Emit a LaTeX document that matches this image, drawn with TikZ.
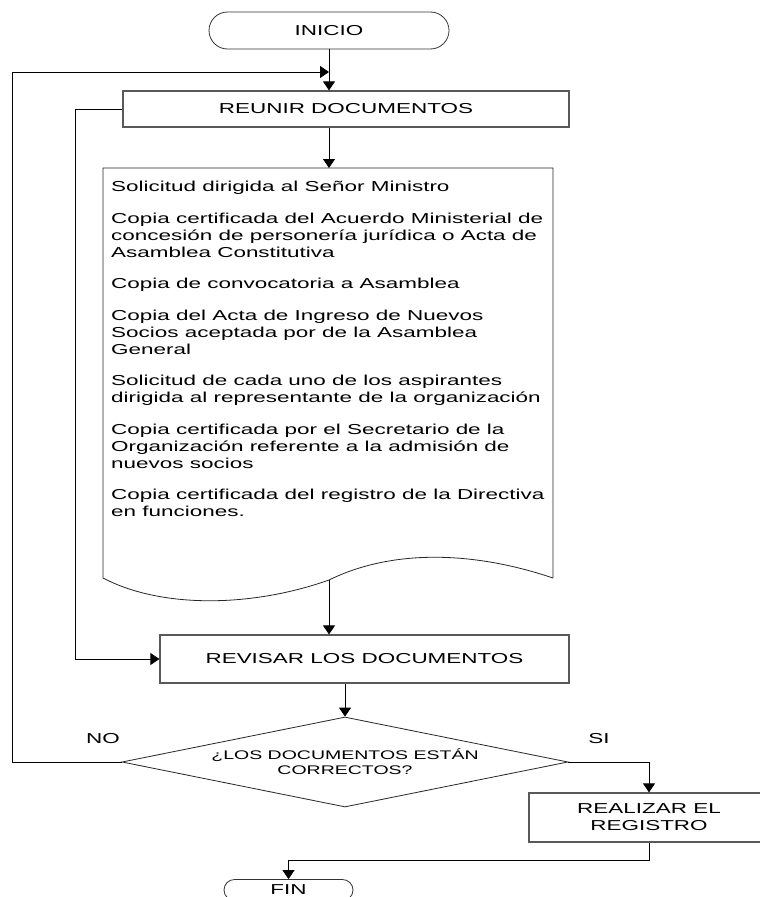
\documentclass[tikz,border=0pt]{standalone}
\usepackage{fontspec}
\setmainfont{Liberation Sans}[FakeStretch=1.56]
\usetikzlibrary{shapes.geometric,shapes.misc,arrows.meta}
\begin{document}
\begin{tikzpicture}[x=1pt,y=-1pt,>={Triangle[length=9pt,width=12pt]},
	every node/.style={font=\fontsize{14.4}{17}\selectfont},
	linea/.style={line width=0.9pt},
	caja/.style={rectangle,draw=black!65,line width=1.2pt,inner sep=0pt},
	terminal/.style={rounded rectangle,draw=black!80,line width=0.8pt,inner sep=0pt},
	rombo/.style={diamond,draw=black!85,line width=0.8pt,inner sep=0pt,shape aspect=4.95}]
\clip (0,0) rectangle (760,897);
\fill[white] (0,0) rectangle (760,897);
\node (inicio) at (329,30.5) [terminal,minimum width=240pt,minimum height=37pt] {INICIO};
\node (reunir) at (346,109) [caja,minimum width=446pt,minimum height=36pt] {REUNIR DOCUMENTOS};
\draw[draw=black!85,line width=0.8pt]
	(553,578) -- (553,168) -- (103,168) -- (103,578)
	.. controls (160,608) and (250,608) .. (329,580)
	.. controls (390,550) and (470,550) .. (553,578);
\node (requisitos) at (111,181) [anchor=north west,align=left,inner sep=0pt]
	{Solicitud dirigida al Señor Ministro\\[14.5pt]
	Copia certificada del Acuerdo Ministerial de\\
	concesión de personería jurídica o Acta de\\
	Asamblea Constitutiva\\[14.5pt]
	Copia de convocatoria a Asamblea\\[14.5pt]
	Copia del Acta de Ingreso de Nuevos\\
	Socios aceptada por de la Asamblea\\
	General\\[14.5pt]
	Solicitud de cada uno de los aspirantes\\
	dirigida al representante de la organización\\[14.5pt]
	Copia certificada por el Secretario de la\\
	Organización referente a la admisión de\\
	nuevos socios\\[14.5pt]
	Copia certificada del registro de la Directiva\\
	en funciones.};
\coordinate (docarriba) at (329,168);
\coordinate (docabajo) at (329,580);
\node (revisar) at (364.5,659) [caja,minimum width=409pt,minimum height=48pt] {REVISAR LOS DOCUMENTOS};
\node (pregunta) at (345,762) [rombo,minimum width=446pt,minimum height=90pt,align=center,
	font=\fontsize{12.5}{15}\selectfont] {¿LOS DOCUMENTOS ESTÁN\\CORRECTOS?};
\node (no) at (103,739) {NO};
\node (si) at (599,739) {SI};
\node (registro) at (649,817.5) [caja,minimum width=240pt,minimum height=49pt,align=center] {REALIZAR EL\\REGISTRO};
\node (fin) at (288.5,890) [terminal,minimum width=129pt,minimum height=21pt] {FIN};
\coordinate (bucle) at (12,72);
\coordinate (union) at (329,72);
\draw[linea,->] (inicio.south) -- (inicio.south |- reunir.north);
\draw[linea,->] (pregunta.west) -| (bucle) -- (union);
\draw[linea,->] (reunir.south -| docarriba) -- (docarriba);
\draw[linea,->] (reunir.west) -- ++(-47,0) |- (revisar.west);
\draw[linea,->] (docabajo) -- (docabajo |- revisar.north);
\draw[linea,->] (revisar.south -| pregunta.north) -- (pregunta.north);
\draw[linea,->] (pregunta.east) -| (registro.north);
\draw[linea,->] (registro.south) -- ++(0,18) -| (fin.north);
\end{tikzpicture}
\end{document}
